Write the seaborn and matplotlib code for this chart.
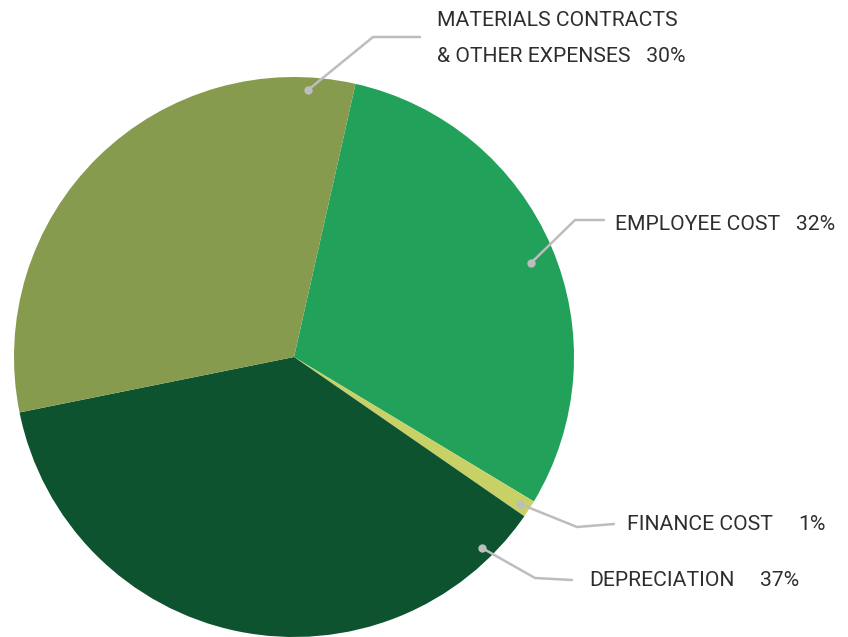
import matplotlib
matplotlib.use("Agg")
import matplotlib.pyplot as plt
import seaborn as sns

# Data (label texts as printed)
categories = ["EMPLOYEE COST", "FINANCE COST", "DEPRECIATION", "MATERIALS CONTRACTS\n& OTHER EXPENSES"]
values = [30.1, 1.0, 37.2, 31.7]
pct_labels = ["32%", "1%", "37%", "30%"]
colors = ["#21A15A", "#C8D166", "#0E5330", "#869B4E"]

sns.set_theme(style="white")
plt.rcParams["font.family"] = ["Roboto", "DejaVu Sans"]

W, H = 848, 637
fig = plt.figure(figsize=(W / 100, H / 100), dpi=100)

# Pie axes: center (294,357) px, radius 280 px
cx, cy, r = 294, 357, 280
ax = fig.add_axes([(cx - r) / W, (H - cy - r) / H, 2 * r / W, 2 * r / H])
ax.pie(values, colors=colors, startangle=77.3, counterclock=False,
       radius=1.0, wedgeprops=dict(linewidth=0))
ax.set_xlim(-1, 1)
ax.set_ylim(-1, 1)
ax.set_aspect("equal")
ax.axis("off")

# Overlay axes in pixel coordinates for leader lines and labels
ov = fig.add_axes([0, 0, 1, 1])
ov.set_xlim(0, W)
ov.set_ylim(H, 0)
ov.axis("off")
ov.patch.set_alpha(0)

line_c = "#BDBDBD"
txt_c = "#2E2E2E"
fs = 15.2

leaders = {
    "EMPLOYEE COST": [(531, 263), (575, 220), (604, 220)],
    "FINANCE COST": [(520, 504), (577, 527), (614, 524)],
    "DEPRECIATION": [(482, 548), (535, 578), (572, 580)],
    "MATERIALS": [(308, 90), (373, 37), (420, 37)],
}
for k, pts in leaders.items():
    xs, ys = zip(*pts)
    ov.plot(xs, ys, color=line_c, lw=1.8, solid_capstyle="round")
    ov.plot(xs[0], ys[0], "o", color=line_c, ms=6, mec="none")

ov.text(437, 21, "MATERIALS CONTRACTS", fontsize=fs, color=txt_c, va="center", ha="left")
ov.text(437, 56, "& OTHER EXPENSES   " + pct_labels[3], fontsize=fs, color=txt_c, va="center", ha="left")
ov.text(615, 225, categories[0] + "   " + pct_labels[0], fontsize=fs, color=txt_c, va="center", ha="left")
ov.text(627, 524, categories[1], fontsize=fs, color=txt_c, va="center", ha="left")
ov.text(826, 524, pct_labels[1], fontsize=fs, color=txt_c, va="center", ha="right")
ov.text(589, 581, categories[2], fontsize=fs, color=txt_c, va="center", ha="left")
ov.text(799, 581, pct_labels[2], fontsize=fs, color=txt_c, va="center", ha="right")

fig.savefig("out.png", dpi=100)
